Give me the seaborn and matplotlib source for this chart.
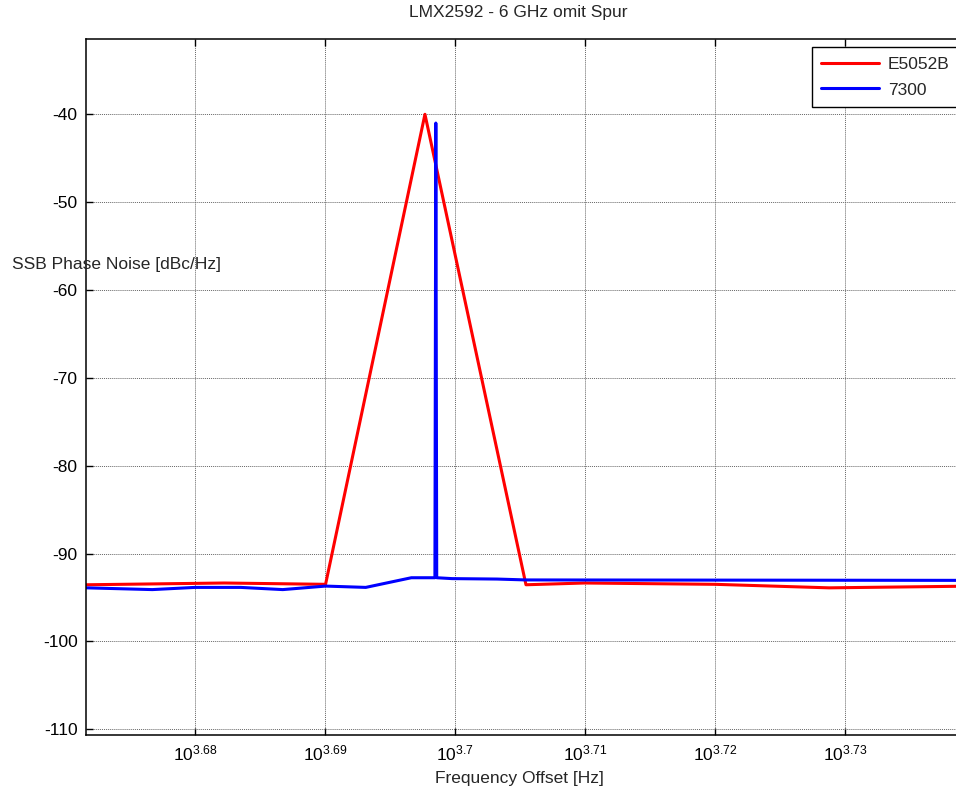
import numpy as np
import pandas as pd
import matplotlib
matplotlib.use("Agg")
import matplotlib.pyplot as plt
import seaborn as sns

# Data (frequency offset in Hz, phase noise in dBc/Hz)
e5052b_freq = [4695, 4811, 4898, 4985, 5075, 5128, 5248, 5355, 5495]
e5052b_pn = [-93.55, -93.35, -93.5, -40.0, -93.55, -93.35, -93.5, -93.9, -93.7]

r7300_freq = [4695, 4750, 4786, 4825, 4861, 4898, 4933, 4973, 4993.8, 4994.6, 4995.4,
              5009, 5049, 5075, 5495]
r7300_pn = [-93.9, -94.1, -93.85, -93.85, -94.1, -93.7, -93.85, -92.75, -92.75, -41.0, -92.75,
            -92.85, -92.9, -93.0, -93.05]

series_names = ["E5052B", "7300"]
series_colors = {"E5052B": "#ff0000", "7300": "#0000ff"}

x_exponents = [3.68, 3.69, 3.70, 3.71, 3.72, 3.73]
x_ticklabels = [r"$10^{3.68}$", r"$10^{3.69}$", r"$10^{3.7}$",
                r"$10^{3.71}$", r"$10^{3.72}$", r"$10^{3.73}$"]
y_ticks = [-110, -100, -90, -80, -70, -60, -50, -40]

df = pd.concat([
    pd.DataFrame({"freq": e5052b_freq, "pn": e5052b_pn, "source": "E5052B"}),
    pd.DataFrame({"freq": r7300_freq, "pn": r7300_pn, "source": "7300"}),
], ignore_index=True)

sns.set_style("ticks")
plt.rcParams["font.family"] = ["Liberation Sans", "DejaVu Sans"]
plt.rcParams["mathtext.fontset"] = "custom"
plt.rcParams["mathtext.rm"] = "Liberation Sans"
plt.rcParams["mathtext.it"] = "Liberation Sans:italic"
plt.rcParams["mathtext.bf"] = "Liberation Sans:bold"

fs = 12.5
fig = plt.figure(figsize=(9.56, 7.95), dpi=100, facecolor="white")
ax = fig.add_axes([86 / 956, 1 - 735 / 795, 889 / 956, 696 / 795])

sns.lineplot(data=df, x="freq", y="pn", hue="source", hue_order=series_names,
             palette=series_colors, sort=False, estimator=None, linewidth=2.2,
             ax=ax, solid_joinstyle="round")

ax.set_xscale("log")
ax.set_xlim(10 ** 3.67159, 10 ** 3.73998)
ax.set_ylim(-110.65, -31.43)
ax.set_xticks([10 ** e for e in x_exponents])
ax.set_xticklabels(x_ticklabels)
ax.xaxis.set_minor_locator(matplotlib.ticker.NullLocator())
ax.set_yticks(y_ticks)
ax.set_yticklabels([str(v) for v in y_ticks])

ax.grid(True, which="major", linestyle=(0, (1, 1)), color="0.4", linewidth=0.7)
ax.tick_params(axis="both", which="major", direction="in", length=5, width=1,
               top=True, right=True, labelsize=fs, pad=6, colors="black")
for s in ax.spines.values():
    s.set_linewidth(1.1)
    s.set_color("black")

ax.set_xlabel("")
ax.set_ylabel("")
fig.text(519 / 956, 1 - 778 / 795, "Frequency Offset [Hz]", ha="center", va="center", fontsize=fs)
fig.text(518.5 / 956, 1 - 13 / 795, "LMX2592 - 6 GHz omit Spur", ha="center", va="center", fontsize=fs)
fig.text(12 / 956, 1 - 265 / 795, "SSB Phase Noise [dBc/Hz]", ha="left", va="center", fontsize=fs)

# legend box runs just past the right edge, as in the reference
leg = ax.legend(loc="upper left",
                bbox_to_anchor=((811.7 - 86) / 889, (735 - 47.3) / 696),
                fontsize=fs, frameon=True, fancybox=False, framealpha=1, edgecolor="black",
                handlelength=3.3, handletextpad=0.55, labelspacing=0.6, borderpad=0.55,
                borderaxespad=0)
leg.get_frame().set_linewidth(1.0)

plt.savefig("out.png", dpi=100, facecolor="white")
